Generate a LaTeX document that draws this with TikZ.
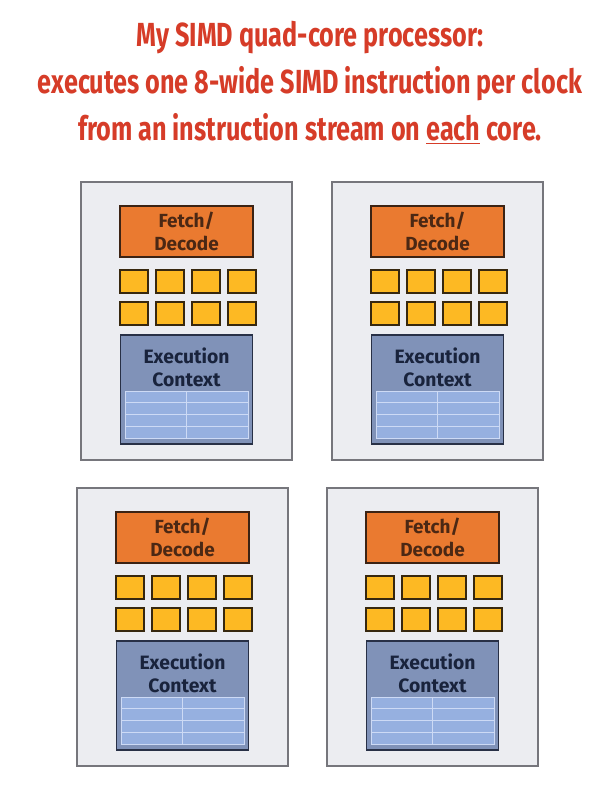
\documentclass[tikz,border=0pt]{standalone}
\usepackage{fontspec}
\setmainfont{Fira Sans}
\usepackage{graphicx}
\usetikzlibrary{positioning,calc}

\definecolor{titlered}{RGB}{214,60,40}
\definecolor{corefill}{RGB}{236,237,241}
\definecolor{coreline}{RGB}{118,118,124}
\definecolor{fetchfill}{RGB}{234,122,48}
\definecolor{fetchline}{RGB}{60,35,20}
\definecolor{fetchtext}{RGB}{75,40,20}
\definecolor{alufill}{RGB}{253,185,35}
\definecolor{aluline}{RGB}{55,40,15}
\definecolor{ctxfill}{RGB}{128,146,184}
\definecolor{ctxline}{RGB}{40,48,70}
\definecolor{ctxtext}{RGB}{25,35,60}
\definecolor{regfill}{RGB}{150,176,224}
\definecolor{regline}{RGB}{205,218,245}

% one core: name, left, top (in pixels)
\newcommand{\simdcore}[3]{%
  \begin{scope}[shift={(#2,#3)}]
    \node[corebox] (#1) at (105.5,139) {};
    \node[fetchbox] (#1-fd) at (105.5,49.5) {Fetch/\\Decode};
    % 8 ALUs
    \foreach \i in {0,...,3} {
      \node[alubox] (#1-top\i) at (53+36*\i,99.5) {};
      \node[alubox] (#1-bot\i) at (53+36*\i,131.5) {};
    }
    % execution context
    \node[ctxbox] (#1-ctx) at (105.5,207.5) {};
    \node[ctxlabel] (#1-ctxlab) at (105.5,185) {Execution\\Context};
    \node[regbox] (#1-reg) at (105.5,232.5) {};
    \draw[regsep] (#1-reg.north) -- (#1-reg.south);
    \foreach \k in {1,2,3}
      \draw[regsep] ($(#1-reg.north west)!\k/4!(#1-reg.south west)$) -- ($(#1-reg.north east)!\k/4!(#1-reg.south east)$);
  \end{scope}}

\begin{document}
\begin{tikzpicture}[x=0.02cm,y=-0.02cm,
    every node/.style={inner sep=0pt,outer sep=0pt},
    titleline/.style={text=titlered,font=\fontsize{19}{23}\selectfont\bfseries,anchor=base},
    corebox/.style={draw=coreline,fill=corefill,line width=0.8pt,minimum width=4.22cm,minimum height=5.56cm},
    fetchbox/.style={draw=fetchline,fill=fetchfill,line width=0.8pt,minimum width=2.66cm,minimum height=1.02cm,
      align=center,text=fetchtext,font=\fontsize{10.8}{13}\selectfont\bfseries},
    alubox/.style={draw=aluline,fill=alufill,line width=1pt,minimum width=0.56cm,minimum height=0.46cm},
    ctxbox/.style={draw=ctxline,fill=ctxfill,line width=0.8pt,minimum width=2.64cm,minimum height=2.18cm},
    ctxlabel/.style={align=center,text=ctxtext,font=\fontsize{11}{13}\selectfont\bfseries},
    regbox/.style={draw=regline,fill=regfill,line width=0.5pt,minimum width=2.46cm,minimum height=0.94cm},
    regsep/.style={draw=regline,line width=0.6pt},
]
    \useasboundingbox (0,0) rectangle (613,788);
    \fill[white] (0,0) rectangle (613,788);

    % title
    \node[titleline] (title1) at (310,46) {\scalebox{0.755}[1]{My SIMD quad-core processor:}};
    \node[titleline] (title2) at (310,93) {\scalebox{0.755}[1]{executes one 8-wide SIMD instruction per clock}};
    \node[titleline] (title3) at (310,140) {\scalebox{0.755}[1]{from an instruction stream on \underline{each} core.}};

    % four cores
    \simdcore{coreA}{81}{182}
    \simdcore{coreB}{332}{182}
    \simdcore{coreC}{77}{488}
    \simdcore{coreD}{327}{488}
\end{tikzpicture}
\end{document}
